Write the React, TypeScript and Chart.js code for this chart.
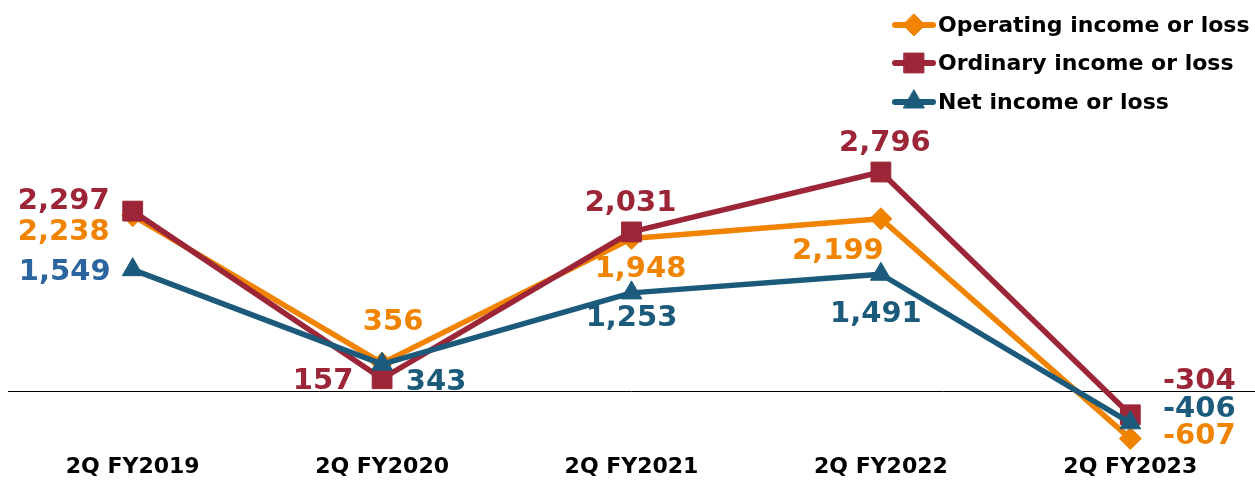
import React, { useEffect, useRef } from "react";
import { Chart, registerables } from "chart.js";

Chart.register(...registerables);

const categories = ["2Q FY2019", "2Q FY2020", "2Q FY2021", "2Q FY2022", "2Q FY2023"];
const operatingIncome = [2238, 356, 1948, 2199, -607];
const ordinaryIncome = [2297, 157, 2031, 2796, -304];
const netIncome = [1549, 343, 1253, 1491, -406];
const seriesNames = ["Operating income or loss", "Ordinary income or loss", "Net income or loss"];

const ORANGE = "#F08300";
const RED = "#9C2537";
const BLUE = "#1B5A7B";
const FONT = "'DejaVu Sans', Verdana, sans-serif";

// label offsets (dx, dy) relative to each point
const labelOffsets: number[][][] = [
  [[-69, 17], [11, -41], [9, 31], [-43, 33], [69, -2]],
  [[-69, -10], [-59, 3], [-1, -28], [4, -29], [69, -33]],
  [[-68, 3], [54, 18], [0, 26], [-5, 40], [69, -13]],
];
const labelColors: (string | null)[][] = [
  [null, null, null, null, null],
  [null, null, null, null, null],
  ["#2C64A0", null, null, null, null],
];

const zeroLinePlugin = {
  id: "zeroLine",
  beforeDatasetsDraw(chart: any) {
    const { ctx, scales } = chart;
    const y = Math.round(scales.y.getPixelForValue(0)) + 0.5;
    ctx.save();
    ctx.strokeStyle = "#000";
    ctx.lineWidth = 1;
    ctx.beginPath();
    ctx.moveTo(8, y);
    ctx.lineTo(chart.width, y);
    ctx.stroke();
    ctx.restore();
  },
};

const labelPlugin = {
  id: "valueLabels",
  afterDatasetsDraw(chart: any) {
    const { ctx } = chart;
    ctx.save();
    ctx.font = `bold 29px ${FONT}`;
    ctx.textAlign = "center";
    ctx.textBaseline = "middle";
    chart.data.datasets.forEach((ds: any, di: number) => {
      const meta = chart.getDatasetMeta(di);
      meta.data.forEach((pt: any, i: number) => {
        const v = ds.data[i] as number;
        const [dx, dy] = labelOffsets[di][i];
        ctx.fillStyle = labelColors[di][i] || ds.borderColor;
        ctx.fillText(v.toLocaleString("en-US"), pt.x + dx, pt.y + dy);
      });
    });
    ctx.restore();
  },
};

function drawMarker(ctx: CanvasRenderingContext2D, style: string, r: number, x: number, y: number) {
  ctx.beginPath();
  if (style === "rectRot") {
    ctx.moveTo(x, y - r);
    ctx.lineTo(x + r, y);
    ctx.lineTo(x, y + r);
    ctx.lineTo(x - r, y);
  } else if (style === "rect") {
    const s = Math.SQRT1_2 * r;
    ctx.rect(x - s, y - s, 2 * s, 2 * s);
  } else {
    const a = (Math.PI * 2) / 3;
    for (let k = 0; k < 3; k++) {
      const ang = -Math.PI / 2 + k * a;
      const px = x + Math.cos(ang) * r;
      const py = y + Math.sin(ang) * r;
      if (k === 0) ctx.moveTo(px, py);
      else ctx.lineTo(px, py);
    }
  }
  ctx.closePath();
  ctx.fill();
  ctx.stroke();
}

const legendPlugin = {
  id: "customLegend",
  afterDraw(chart: any) {
    const { ctx } = chart;
    const rows = [25, 63, 102];
    ctx.save();
    chart.data.datasets.forEach((ds: any, di: number) => {
      const y = rows[di];
      ctx.strokeStyle = ds.borderColor;
      ctx.lineWidth = 6;
      ctx.lineCap = "round";
      ctx.beginPath();
      ctx.moveTo(895, y);
      ctx.lineTo(933, y);
      ctx.stroke();
      ctx.fillStyle = ds.borderColor;
      ctx.lineWidth = 1;
      drawMarker(ctx, ds.pointStyle, ds.pointRadius, 914, y);
      ctx.fillStyle = "#000";
      ctx.font = `bold 22px ${FONT}`;
      ctx.textAlign = "left";
      ctx.textBaseline = "middle";
      ctx.fillText(seriesNames[di], 938, y + 1);
    });
    ctx.restore();
  },
};

export default function App() {
  const ref = useRef<HTMLCanvasElement>(null);
  useEffect(() => {
    if (!ref.current) return;
    const mk = (label: string, data: number[], color: string, style: string, radius: number, order: number) => ({
      label,
      data,
      borderColor: color,
      backgroundColor: color,
      pointBackgroundColor: color,
      pointBorderColor: color,
      pointStyle: style,
      pointRadius: radius,
      pointBorderWidth: 1,
      borderWidth: 5.5,
      borderJoinStyle: "round",
      borderCapStyle: "round",
      tension: 0,
      clip: false,
      order,
    });
    const chart = new Chart(ref.current, {
      type: "line",
      data: {
        labels: categories,
        datasets: [
          mk(seriesNames[0], operatingIncome, ORANGE, "rectRot", 11, 3),
          mk(seriesNames[1], ordinaryIncome, RED, "rect", 14, 2),
          mk(seriesNames[2], netIncome, BLUE, "triangle", 12, 1),
        ] as any,
      },
      options: {
        responsive: false,
        animation: false,
        devicePixelRatio: 1,
        layout: { autoPadding: false, padding: { left: 8, right: 0, top: 20, bottom: 4 } },
        plugins: {
          legend: { display: false },
          tooltip: { enabled: false },
        },
        scales: {
          x: {
            offset: true,
            grid: { display: false, drawTicks: false },
            border: { display: false },
            ticks: {
              color: "#000",
              padding: 0,
              font: { family: FONT, size: 22, weight: "bold" },
              maxRotation: 0,
            },
          },
          y: {
            display: false,
            min: -799,
            max: 4737,
          },
        },
      },
      plugins: [zeroLinePlugin, labelPlugin, legendPlugin],
    });
    return () => chart.destroy();
  }, []);
  return (
    <div style={{ position: "absolute", left: 0, top: 0, width: 1255, height: 484 }}>
      <canvas ref={ref} width={1255} height={484} style={{ width: 1255, height: 484 }} />
    </div>
  );
}
